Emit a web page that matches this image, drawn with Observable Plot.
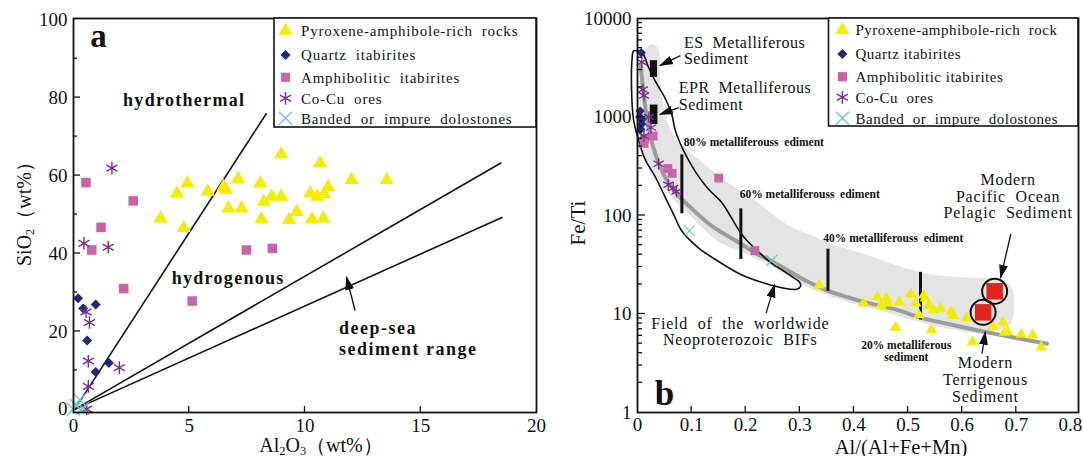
<!DOCTYPE html>
<html><head><meta charset="utf-8">
<script src="https://cdn.jsdelivr.net/npm/d3@7"></script>
<script src="https://cdn.jsdelivr.net/npm/@observablehq/plot@0.6"></script>
<style>
html,body{margin:0;padding:0;background:#fff;}
#wrap{position:relative;width:1083px;height:456px;overflow:hidden;background:#fff;}
#pa{position:absolute;left:0;top:0;}
#pb{position:absolute;left:540px;top:0;}
svg{overflow:visible;}
</style></head>
<body><div id="wrap"><div id="pa"></div><div id="pb"></div></div>
<script>
// ---------------- Panel a data: Al2O3 (wt%) vs SiO2 (wt%) ----------------
const pyroxeneA = [[3.76,49.0],[4.47,55.4],[4.92,58.0],[4.76,46.6],[5.80,55.9],[6.48,57.1],[6.59,56.3],[6.69,51.6],[7.11,59.1],[7.26,51.6],[8.07,58.0],[8.22,53.3],[8.12,48.8],[8.56,54.6],[8.97,54.6],[8.97,65.5],[9.31,48.6],[9.64,50.7],[10.23,55.4],[10.30,48.8],[10.53,54.6],[10.65,63.2],[10.82,55.3],[10.79,49.0],[11.00,57.1],[12.01,58.9],[13.53,58.9]];
const quartzA = [[0.20,28.5],[0.42,25.9],[0.96,26.9],[0.59,17.7],[0.96,9.6],[1.53,11.9]];
const amphibA = [[0.54,58.2],[2.58,53.5],[1.19,46.7],[0.79,40.9],[2.17,31.0],[5.13,27.8],[7.47,40.9],[8.59,41.3]];
const cocuA = [[1.66,61.9],[0.45,42.6],[1.50,41.6],[0.54,25.0],[0.69,22.3],[0.64,12.4],[1.98,10.7],[0.64,5.9],[0.57,0.1]];
const doloA = [[0.0,0.0],[0.27,2.5],[0.12,1.0],[0.40,0.3]];
const boundaryA = [{x1:0.05,y1:0,x2:8.34,y2:76.0},{x1:0.05,y1:0,x2:18.48,y2:63.3},{x1:0.05,y1:0,x2:18.53,y2:49.3}];
const arrowA = [{x1:12.16,y1:25.4,x2:11.79,y2:34.0}];
const fieldLabelsA = [{text:"hydrothermal",x:4.78,y:79.4},{text:"hydrogenous",x:6.68,y:33.7}];
const rangeLabelA = [{text:"deep-sea\nsediment range",x:11.47,y:18.4}];
const panelTagA = [{text:"a",x:1.08,y:95.6}];
const xTicksA = [0,5,10,15,20];
const yTicksA = [0,20,40,60,80,100];

// ---------------- Panel b data: Al/(Al+Fe+Mn) vs Fe/Ti ----------------
const pyroxeneB = [[0.336,19.6],[0.418,12.9],[0.443,14.9],[0.450,12.2],[0.460,14.5],[0.462,12.9],[0.484,13.2],[0.477,7.3],[0.505,16.0],[0.529,15.5],[0.532,14.5],[0.514,12.9],[0.538,12.2],[0.547,11.0],[0.560,11.3],[0.580,10.6],[0.583,9.6],[0.520,9.8],[0.543,6.9],[0.608,9.1],[0.619,5.2],[0.657,7.4],[0.675,8.2],[0.678,6.5],[0.684,6.6],[0.709,6.2],[0.730,6.1],[0.746,4.6]];
const quartzB = [[0.007,4500],[0.005,1150],[0.004,1000],[0.008,850],[0.006,750],[0.009,950]];
const amphibB = [[0.013,600],[0.012,540],[0.029,640],[0.056,300],[0.064,268],[0.150,240],[0.217,44]];
const cocuB = [[0.008,3600],[0.010,1900],[0.012,1650],[0.021,1000],[0.025,780],[0.012,640],[0.039,335],[0.057,205],[0.066,190],[0.072,175]];
const doloB = [[0.096,70],[0.248,35]];
const mixingCurve = [[0.006,3300],[0.012,1600],[0.018,950],[0.027,540],[0.040,330],[0.055,225],[0.075,160],[0.10,118],[0.13,84],[0.16,65],[0.19,52],[0.22,41],[0.25,34],[0.30,23.5],[0.35,17.4],[0.42,13.2],[0.48,11.0],[0.523,9.2],[0.57,8.0],[0.63,6.8],[0.70,5.7],[0.757,5.0]];
const bandOutline = [[0.0146,4900],[0.027,5500],[0.038,4900],[0.042,2400],[0.049,1200],[0.066,660],[0.097,440],[0.137,290],[0.179,195],[0.221,137],[0.27,85],[0.30,70],[0.33,60],[0.36,51],[0.42,40.5],[0.48,31],[0.53,26],[0.57,24.2],[0.63,23.3],[0.675,22.4],[0.692,18.3],[0.696,11.4],[0.690,8.0],[0.672,7.1],[0.64,6.3],[0.60,6.7],[0.55,7.6],[0.50,8.9],[0.45,10.8],[0.40,12.6],[0.35,15.5],[0.30,20.5],[0.25,30],[0.20,41],[0.148,55],[0.10,96],[0.057,167],[0.027,290],[0.004,460],[0.004,1500],[0.007,4300]];
const bifField = [[0.000,4700],[0.0091,4480],[0.0201,3220],[0.0329,2310],[0.0511,1550],[0.0634,1060],[0.0694,745],[0.0785,547],[0.0908,396],[0.109,268],[0.130,188],[0.155,137],[0.173,96],[0.188,70],[0.203,55],[0.2216,43.8],[0.246,33.2],[0.270,27.3],[0.2886,23.3],[0.2995,21.0],[0.3014,19.1],[0.294,17.8],[0.270,18.3],[0.2338,20.6],[0.191,25.2],[0.1485,34.5],[0.112,47.3],[0.0816,70],[0.0663,104],[0.0511,154],[0.0329,247],[0.0146,366],[0.0018,588],[-0.0073,943],[-0.011,1915],[-0.010,3890],[-0.0073,4700]];
const pctTicks = [{x:0.082,y1:104,y2:412},{x:0.191,y1:35.8,y2:117},{x:0.352,y1:17.0,y2:45.5},{x:0.523,y1:8.7,y2:26.5}];
const pctLabels = [{text:"80% metalliferouss  ediment",x:0.0857,y:552},{text:"60% metalliferouss  ediment",x:0.1889,y:164},{text:"40% metalliferouss  ediment",x:0.3434,y:59}];
const pct20Label = [{text:"20% metalliferous\nsediment",x:0.4968,y:4.24}];
const metalRects = [{name:"ES",x1:0.0237,x2:0.037,y1:2520,y2:3730},{name:"EPR",x1:0.0237,x2:0.0378,y1:838,y2:1322}];
const modernSed = [{name:"Pacific",x:0.660,y:17.0},{name:"Terrigenous",x:0.6387,y:10.4}];
const arrowsB = [{x1:0.0793,y1:4200,x2:0.0413,y2:3320},{x1:0.0762,y1:1243,x2:0.0413,y2:1060},{x1:0.690,y1:64.9,x2:0.671,y2:23.3},{x1:0.6367,y1:3.96,x2:0.643,y2:6.6},{x1:0.2376,y1:10.2,x2:0.2535,y2:19.9}];
const annotB = [{text:"ES  Metalliferous\nSediment",x:0.0858,y:4730,anchor:"start"},{text:"EPR  Metalliferous\nSediment",x:0.0762,y:1634,anchor:"start"},{text:"Field  of  the  worldwide\nNeoproterozoic  BIFs",x:0.190,y:6.61,anchor:"middle"},{text:"Modern\nPacific  Ocean\nPelagic  Sediment",x:0.685,y:157,anchor:"middle"},{text:"Modern\nTerrigenous\nSediment",x:0.643,y:2.16,anchor:"middle"}];
const panelTagB = [{text:"b",x:0.0508,y:1.54}];
const xTicksB = [0,0.1,0.2,0.3,0.4,0.5,0.6,0.7,0.8];
const yTicksB = [1,10,100,1000,10000];

const legendLabelsA = ["Pyroxene-amphibole-rich  rocks","Quartz  itabirites","Amphibolitic  itabirites","Co-Cu  ores","Banded  or  impure  dolostones"];
const legendLabelsB = ["Pyroxene-amphibole-rich  rock","Quartz itabirites","Amphibolitic itabirites","Co-Cu  ores","Banded  or  impure  dolostones"];

// ---------------- styling ----------------
const FONT = "'Liberation Serif','Times New Roman',serif";
const C = {pyr:"#f3ee00", qtz:"#27247c", amp:"#c964a9", cocu:"#7b2c8c", dolo:"#6ccaca", band:"#e4e4e4", mix:"#9c9c9c", ink:"#111", red:"#e2231e"};
const px = d => d[0], py = d => d[1];

const figA = Plot.plot({
  width: 540, height: 456, marginLeft: 73, marginRight: 4, marginTop: 18, marginBottom: 44,
  style: {fontFamily: FONT, fontSize: "19px", color: C.ink, background: "transparent", overflow: "visible"},
  x: {domain: [0, 20], ticks: xTicksA, tickSize: 0, tickPadding: 6, label: null},
  y: {domain: [-0.8, 100.3], ticks: yTicksA, tickSize: 0, tickPadding: 6, label: null},
  marks: [
    Plot.link(boundaryA, {x1:"x1", y1:"y1", x2:"x2", y2:"y2", stroke: C.ink, strokeWidth: 1.6}),
    Plot.dot(pyroxeneA, {x: px, y: py, symbol: "triangle", r: 5.3, fill: C.pyr}),
    Plot.dot(amphibA, {x: px, y: py, symbol: "square", r: 5.4, fill: C.amp}),
    Plot.dot(quartzA, {x: px, y: py, symbol: "square", rotate: 45, r: 4, fill: C.qtz}),
    Plot.dot(cocuA, {x: px, y: py, symbol: "asterisk", r: 6, stroke: C.cocu, strokeWidth: 1.4}),
    Plot.dot(doloA, {x: px, y: py, symbol: "times", r: 6, stroke: C.dolo, strokeWidth: 1.3}),
    Plot.link(arrowA, {x1:"x1", y1:"y1", x2:"x2", y2:"y2", stroke: C.ink, strokeWidth: 1.4}),
    Plot.text(fieldLabelsA, {x:"x", y:"y", text:"text", fontSize: 18, fontWeight: "bold", fill: C.ink}),
    Plot.text(rangeLabelA, {x:"x", y:"y", text:"text", fontSize: 18, fontWeight: "bold", textAnchor: "start", lineHeight: 1.17, fill: C.ink}),
    Plot.text(panelTagA, {x:"x", y:"y", text:"text", fontSize: 33, fontWeight: "bold", fill: C.ink}),
    Plot.frame({stroke: C.ink, strokeWidth: 1.8})
  ]
});
document.getElementById("pa").appendChild(figA);

const figB = Plot.plot({
  width: 543, height: 456, marginLeft: 97, marginRight: 5, marginTop: 18, marginBottom: 44,
  style: {fontFamily: FONT, fontSize: "19px", color: C.ink, background: "transparent", overflow: "visible"},
  x: {domain: [0, 0.815], ticks: xTicksB, tickFormat: d => d === 0 ? "0" : d.toFixed(1), tickSize: 0, tickPadding: 5, label: null},
  y: {type: "log", domain: [1, 10000], ticks: yTicksB, tickFormat: d => String(d), tickSize: 0, tickPadding: 6, label: null},
  marks: [
    Plot.line(bandOutline, {x: px, y: py, curve: "catmull-rom-closed", fill: C.band, stroke: "none"}),
    Plot.line(mixingCurve, {x: px, y: py, curve: "catmull-rom", stroke: C.mix, strokeWidth: 4}),
    Plot.line(bifField, {x: px, y: py, curve: "catmull-rom-closed", stroke: C.ink, strokeWidth: 1.6, fill: "none"}),
    Plot.ruleX(pctTicks, {x: "x", y1: "y1", y2: "y2", stroke: C.ink, strokeWidth: 3}),
    Plot.rect(metalRects, {x1: "x1", x2: "x2", y1: "y1", y2: "y2", fill: C.ink}),
    Plot.dot(pyroxeneB, {x: px, y: py, symbol: "triangle", r: 4.3, fill: C.pyr}),
    Plot.dot(amphibB, {x: px, y: py, symbol: "square", r: 5, fill: C.amp}),
    Plot.dot(quartzB, {x: px, y: py, symbol: "square", rotate: 45, r: 3.7, fill: C.qtz}),
    Plot.dot(cocuB, {x: px, y: py, symbol: "asterisk", r: 5.5, stroke: C.cocu, strokeWidth: 1.3}),
    Plot.dot(doloB, {x: px, y: py, symbol: "times", r: 5, stroke: C.dolo, strokeWidth: 1.2}),
    Plot.dot(modernSed, {x: "x", y: "y", symbol: "square", r: 9.3, fill: C.red}),
    Plot.dot(modernSed, {x: "x", y: "y", r: 12.5, stroke: C.ink, strokeWidth: 2, fill: "none"}),
    Plot.link(arrowsB, {x1:"x1", y1:"y1", x2:"x2", y2:"y2", stroke: C.ink, strokeWidth: 1.3}),
    Plot.text(pctLabels, {x:"x", y:"y", text:"text", fontSize: 11.5, fontWeight: "bold", textAnchor: "start", fill: C.ink}),
    Plot.text(pct20Label, {x:"x", y:"y", text:"text", fontSize: 11.5, fontWeight: "bold", lineHeight: 1.07, fill: C.ink}),
    Plot.text(annotB.filter(d => d.anchor === "start"), {x:"x", y:"y", text:"text", fontSize: 16, lineHeight: 1.05, textAnchor: "start", fill: C.ink}),
    Plot.text(annotB.filter(d => d.anchor === "middle"), {x:"x", y:"y", text:"text", fontSize: 16, lineHeight: 1.04, fill: C.ink}),
    Plot.text(panelTagB, {x:"x", y:"y", text:"text", fontSize: 35, fontWeight: "bold", fill: C.ink}),
    Plot.frame({stroke: C.ink, strokeWidth: 1.8})
  ]
});
document.getElementById("pb").appendChild(figB);

// ---------- decorations: letter spacing, arrow heads, inward ticks, titles, legends ----------
function letterSpacing(fig, values) {
  const gs = fig.querySelectorAll(':scope > g[aria-label="text"]');
  gs.forEach((g, i) => { if (values[i] != null) g.setAttribute("letter-spacing", values[i]); g.style.whiteSpace = "pre"; });
}
letterSpacing(figA, [1.3, 1.5, 0]);
letterSpacing(figB, [0, 0, 0.5, 0.8, 0.8, 0]);

function arrowize(fig, id, index) {
  const svg = d3.select(fig);
  svg.insert("defs", ":first-child").append("marker")
    .attr("id", id).attr("viewBox", "0 -6 14 12").attr("refX", 13).attr("refY", 0)
    .attr("markerWidth", 14).attr("markerHeight", 12).attr("markerUnits", "userSpaceOnUse").attr("orient", "auto")
    .append("path").attr("d", "M0,-4.5L14,0L0,4.5Z").attr("fill", C.ink);
  const gs = fig.querySelectorAll(':scope > g[aria-label="link"]');
  d3.select(gs[index]).selectAll("path, line").attr("marker-end", `url(#${id})`);
}
arrowize(figA, "arrowA", 1);
arrowize(figB, "arrowB", 0);

function inwardTicks(fig, xt, xLen, yt) {
  const sx = fig.scale("x"), sy = fig.scale("y");
  const x0 = Math.min(...sx.range), yb = Math.max(...sy.range);
  const g = d3.select(fig).append("g").attr("stroke", C.ink).attr("stroke-width", 1.3);
  for (const v of xt) { const p = sx.apply(v); g.append("line").attr("x1", p).attr("x2", p).attr("y1", yb).attr("y2", yb - xLen); }
  for (const [v, len] of yt) { const p = sy.apply(v); g.append("line").attr("x1", x0).attr("x2", x0 + len).attr("y1", p).attr("y2", p); }
}
inwardTicks(figA, [5, 10, 15], 6, [10,20,30,40,50,60,70,80,90].map(v => [v, v % 20 === 0 ? 7 : 4]));
{
  const yt = [];
  for (let e = 0; e < 4; e++) for (let k = 1; k < 10; k++) { const v = k * 10 ** e; if (v > 1) yt.push([v, k === 1 ? 8 : 5]); }
  inwardTicks(figB, [0.1,0.2,0.3,0.4,0.5,0.6,0.7], 6, yt);
}

function title(fig, x, y, rot, parts, size) {
  const t = d3.select(fig).append("text")
    .attr("transform", `translate(${x},${y}) rotate(${rot})`)
    .attr("text-anchor", "middle").attr("font-size", size).attr("font-family", FONT).attr("fill", C.ink).attr("dy", "0.35em");
  parts.forEach(p => {
    const s = t.append("tspan").text(p.t);
    if (p.sub) s.attr("font-size", size * 0.62).attr("dy", 3);
    if (p.after) s.attr("dy", -3);
  });
}
title(figA, 24, 209, -90, [{t:"SiO"},{t:"2",sub:true},{t:"（wt%）",after:true}], 20);
title(figA, 321, 445, 0, [{t:"Al"},{t:"2",sub:true},{t:"O",after:true},{t:"3",sub:true},{t:"（wt%）",after:true}], 20);
title(figB, 38, 223, -90, [{t:"Fe/Ti"}], 21);
title(figB, 361, 447, 0, [{t:"Al/(Al+Fe+Mn)"}], 20.5);

function legend(fig, box, symX, txtX, rows, labels, ls) {
  const g = d3.select(fig).append("g").attr("text-anchor", "start");
  g.append("rect").attr("x", box[0]).attr("y", box[1]).attr("width", box[2]).attr("height", box[3])
    .attr("fill", "#fff").attr("stroke", C.ink).attr("stroke-width", 1.6);
  const specs = [
    {type: d3.symbolTriangle, size: Math.PI * 5.2 * 5.2, fill: C.pyr},
    {type: d3.symbolSquare, size: Math.PI * 4 * 4, fill: C.qtz, rot: 45},
    {type: d3.symbolSquare, size: Math.PI * 5.2 * 5.2, fill: C.amp},
    {type: d3.symbolAsterisk, size: Math.PI * 6 * 6, stroke: C.cocu},
    {type: d3.symbolTimes, size: Math.PI * 6 * 6, stroke: C.dolo}
  ];
  specs.forEach((s, i) => {
    g.append("path").attr("d", d3.symbol().type(s.type).size(s.size)())
      .attr("transform", `translate(${symX},${rows[i]})${s.rot ? ` rotate(${s.rot})` : ""}`)
      .attr("fill", s.fill || "none").attr("stroke", s.stroke || "none").attr("stroke-width", 1.4);
    g.append("text").attr("x", txtX).attr("y", rows[i]).attr("dy", "0.35em").attr("text-anchor", "start")
      .attr("font-family", FONT).attr("font-size", 15).attr("letter-spacing", ls)
      .style("white-space", "pre").attr("fill", C.ink).text(labels[i]);
  });
}
legend(figA, [274, 18, 262, 109], 285.5, 301, [30.7, 55, 77.3, 98.3, 118.3], legendLabelsA, 0.8);
legend(figB, [288.5, 18, 249.5, 108], 302.4, 315.5, [30, 54, 76.7, 97.3, 118.3], legendLabelsB, 0.5);
</script></body></html>
